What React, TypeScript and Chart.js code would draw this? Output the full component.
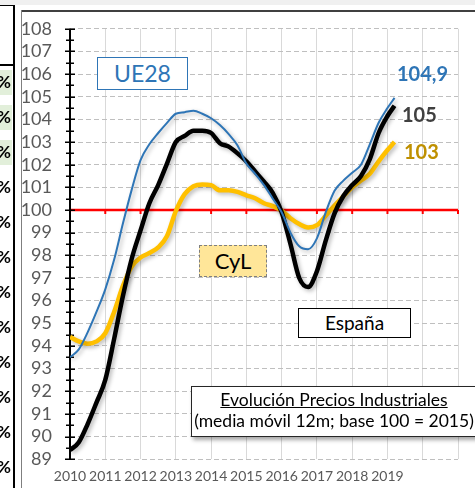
import React, { useEffect, useRef } from "react";
import { Chart, registerables } from "chart.js";

Chart.register(...registerables);

// Time axis (fractional years), shared by the three series
const years = [
  2010, 2010.25, 2010.5, 2010.75,
  2011, 2011.25, 2011.5, 2011.75,
  2012, 2012.25, 2012.5, 2012.75,
  2013, 2013.25, 2013.5, 2013.75,
  2014, 2014.25, 2014.5, 2014.75,
  2015, 2015.25, 2015.5, 2015.75,
  2016, 2016.25, 2016.5, 2016.75,
  2017, 2017.25, 2017.5, 2017.75,
  2018, 2018.25, 2018.5, 2018.75,
  2019, 2019.2,
];

const ue28 = [
  93.5, 93.85, 94.6, 95.5,
  96.5, 97.8, 99.4, 100.9,
  102.2, 102.9, 103.4, 103.85,
  104.25, 104.32, 104.38, 104.25,
  104.05, 103.75, 103.35, 102.85,
  102.05, 101.6, 101.1, 100.5,
  99.9, 99.0, 98.4, 98.27,
  98.75, 99.9, 100.85, 101.3,
  101.65, 102.0, 102.9, 103.85,
  104.5, 104.95,
];

const espana = [
  89.4, 89.75, 90.55, 91.5,
  92.5, 94.3, 96.2, 97.85,
  99.1, 100.3, 101.1, 102.05,
  103.0, 103.27, 103.5, 103.5,
  103.4, 102.95, 102.8, 102.5,
  102.15, 101.7, 101.25, 100.75,
  99.9, 98.5, 97.0, 96.6,
  97.3, 98.65, 99.85, 100.62,
  101.1, 101.5, 102.25, 103.4,
  104.15, 104.6,
];

const cyl = [
  94.4, 94.2, 94.1, 94.2,
  94.56, 95.5, 96.65, 97.5,
  97.9, 98.1, 98.35, 98.85,
  99.95, 100.7, 101.05, 101.13,
  101.1, 100.87, 100.87, 100.8,
  100.65, 100.52, 100.3, 100.17,
  99.97, 99.64, 99.38, 99.23,
  99.33, 99.75, 100.2, 100.6,
  101.0, 101.3, 101.6, 102.15,
  102.65, 103.0,
];

const yearLabels = ["2010", "2011", "2012", "2013", "2014", "2015", "2016", "2017", "2018", "2019"];
const percentRows = ["%", "%", "%", "%", "%", "%", "%", "%", "%", "%", "%", "%"];

const FONT = "Lato, 'Open Sans', sans-serif";

const pts = (vals: number[]) => vals.map((v, i) => ({ x: years[i], y: v }));

const decorPlugin = {
  id: "decor",
  beforeDatasetsDraw(chart: any) {
    const { ctx, chartArea, scales } = chart;
    const xs = scales.x;
    const ys = scales.y;
    ctx.save();
    // red base-100 line acting as horizontal axis
    const y100 = ys.getPixelForValue(100);
    ctx.strokeStyle = "#FF0000";
    ctx.lineWidth = 2.5;
    ctx.beginPath();
    ctx.moveTo(chartArea.left, y100);
    ctx.lineTo(chartArea.right, y100);
    ctx.stroke();
    ctx.lineWidth = 2;
    for (let yr = 2011; yr <= 2021; yr++) {
      const px = xs.getPixelForValue(yr);
      ctx.beginPath();
      ctx.moveTo(px, y100);
      ctx.lineTo(px, y100 + 4);
      ctx.stroke();
    }
    // vertical axis with cross ticks
    ctx.strokeStyle = "#000000";
    ctx.lineWidth = 2;
    ctx.beginPath();
    ctx.moveTo(chartArea.left, chartArea.top);
    ctx.lineTo(chartArea.left, chartArea.bottom);
    ctx.stroke();
    ctx.lineWidth = 1.5;
    for (let v = 89; v <= 108.001; v += 0.5) {
      const py = Math.round(ys.getPixelForValue(v)) + 0.25;
      const half = Number.isInteger(v) ? 5 : 4;
      ctx.beginPath();
      ctx.moveTo(chartArea.left - half, py);
      ctx.lineTo(chartArea.left + half, py);
      ctx.stroke();
    }
    ctx.restore();
  },
  beforeDatasetDraw(chart: any) {
    const ctx = chart.ctx;
    ctx.save();
    ctx.shadowColor = "rgba(0,0,0,0.28)";
    ctx.shadowBlur = 4;
    ctx.shadowOffsetX = 2;
    ctx.shadowOffsetY = 2;
  },
  afterDatasetDraw(chart: any) {
    chart.ctx.restore();
  },
};

function ChartCanvas() {
  const ref = useRef<HTMLCanvasElement | null>(null);
  useEffect(() => {
    if (!ref.current) return;
    const chart = new Chart(ref.current, {
      type: "line",
      data: {
        datasets: [
          {
            label: "UE28",
            data: pts(ue28),
            borderColor: "#2E75B6",
            borderWidth: 2,
            pointRadius: 0,
            cubicInterpolationMode: "monotone",
            fill: false,
          },
          {
            label: "España",
            data: pts(espana),
            borderColor: "#000000",
            borderWidth: 4.5,
            pointRadius: 0,
            cubicInterpolationMode: "monotone",
            fill: false,
          },
          {
            label: "CyL",
            data: pts(cyl),
            borderColor: "#FFC000",
            borderWidth: 4.5,
            pointRadius: 0,
            cubicInterpolationMode: "monotone",
            fill: false,
          },
        ],
      },
      options: {
        animation: false,
        responsive: false,
        maintainAspectRatio: false,
        layout: { padding: { top: 22, right: 17, left: 0, bottom: 0 } },
        plugins: { legend: { display: false }, tooltip: { enabled: false } },
        scales: {
          x: {
            type: "linear",
            min: 2010,
            max: 2021,
            afterFit: (s: any) => {
              s.height = 25;
            },
            ticks: {
              stepSize: 1,
              autoSkip: false,
              maxRotation: 0,
              padding: 9,
              color: "#595959",
              font: { family: FONT, size: 14 },
              callback: (_v: any, i: number) => yearLabels[i] ?? "",
            },
            grid: { color: "#D9D9D9", lineWidth: 1, drawTicks: false },
            border: { display: false },
          },
          y: {
            min: 89,
            max: 108,
            afterFit: (s: any) => {
              s.width = 70;
            },
            ticks: {
              stepSize: 1,
              autoSkip: false,
              padding: 18,
              color: "#595959",
              font: { family: FONT, size: 18 },
            },
            grid: { color: "#BFBFBF", lineWidth: 1, drawTicks: false },
            border: { display: false, dash: [5, 3] },
          },
        },
      },
      plugins: [decorPlugin],
    } as any);
    return () => chart.destroy();
  }, []);
  return <canvas ref={ref} width={475} height={488} style={{ position: "absolute", left: 0, top: 0 }} />;
}

export default function App() {
  const abs = (s: React.CSSProperties): React.CSSProperties => ({ position: "absolute", ...s });
  return (
    <div
      style={{
        position: "fixed",
        left: 0,
        top: 0,
        width: 475,
        height: 488,
        overflow: "hidden",
        background: "#ffffff",
        fontFamily: FONT,
      }}
    >
      <ChartCanvas />
      {/* window strip and frame */}
      <div style={abs({ left: 0, top: 0, width: 475, height: 5, background: "#F0F0F0" })} />
      <div style={abs({ left: 21, top: 10, width: 454, height: 2, background: "#404040" })} />
      <div style={abs({ left: 21, top: 10, width: 1, height: 478, background: "#7F7F7F" })} />
      {/* left table fragment */}
      <div style={abs({ left: 0, top: 5, width: 15, height: 1, background: "#000" })} />
      <div style={abs({ left: 0, top: 64, width: 15, height: 2, background: "#000" })} />
      <div style={abs({ left: 13, top: 5, width: 2, height: 483, background: "#000" })} />
      {[0, 1, 2].map((i) => (
        <div key={"g" + i} style={abs({ left: 0, top: 70 + i * 35, width: 12, height: 25, background: "#E2EFDA" })} />
      ))}
      <div style={abs({ left: 0, top: 0, width: 13, height: 488, overflow: "hidden" })}>
        {percentRows.map((p, i) => (
          <div
            key={"p" + i}
            style={abs({
              left: -3,
              top: 71 + i * 35,
              fontSize: 17,
              fontWeight: 700,
              lineHeight: "22px",
              color: "#000",
            })}
          >
            {p}
          </div>
        ))}
      </div>
      {/* UE28 box */}
      <div
        style={abs({
          left: 97,
          top: 57,
          width: 89,
          height: 31,
          border: "1.5px solid #2E75B6",
          background: "#fff",
          color: "#2E75B6",
          fontSize: 23,
          lineHeight: "31px",
          textAlign: "center",
        })}
      >
        UE28
      </div>
      {/* CyL box */}
      <div
        style={abs({
          left: 199,
          top: 245,
          width: 66,
          height: 30,
          border: "1.5px dashed #7F7F7F",
          background: "#FFE699",
          color: "#000",
          fontSize: 22,
          lineHeight: "30px",
          textAlign: "center",
        })}
      >
        CyL
      </div>
      {/* España box */}
      <div
        style={abs({
          left: 298,
          top: 308,
          width: 111,
          height: 28,
          border: "1.5px solid #000",
          background: "#fff",
          color: "#000",
          fontSize: 19,
          lineHeight: "28px",
          textAlign: "center",
        })}
      >
        España
      </div>
      {/* title box */}
      <div
        style={abs({
          left: 191,
          top: 386,
          width: 292,
          height: 49,
          border: "1.5px solid #262626",
          background: "#fff",
          boxShadow: "2px 3px 4px rgba(0,0,0,0.35)",
        })}
      />
      <div
        style={abs({
          left: 191,
          top: 389,
          width: 286,
          textAlign: "center",
          fontSize: 17.5,
          lineHeight: "21px",
          color: "#000",
          whiteSpace: "nowrap",
        })}
      >
        <div style={{ textDecoration: "underline" }}>Evolución Precios Industriales</div>
        <div>(media móvil 12m; base 100 = 2015)</div>
      </div>
      {/* end value labels */}
      <div style={abs({ left: 397, top: 61, fontSize: 20, fontWeight: 700, color: "#2E75B6", lineHeight: "24px" })}>
        104,9
      </div>
      <div style={abs({ left: 402, top: 102, fontSize: 20, fontWeight: 700, color: "#404040", lineHeight: "24px" })}>
        105
      </div>
      <div style={abs({ left: 404, top: 139, fontSize: 20, fontWeight: 700, color: "#BF9000", lineHeight: "24px" })}>
        103
      </div>
    </div>
  );
}
